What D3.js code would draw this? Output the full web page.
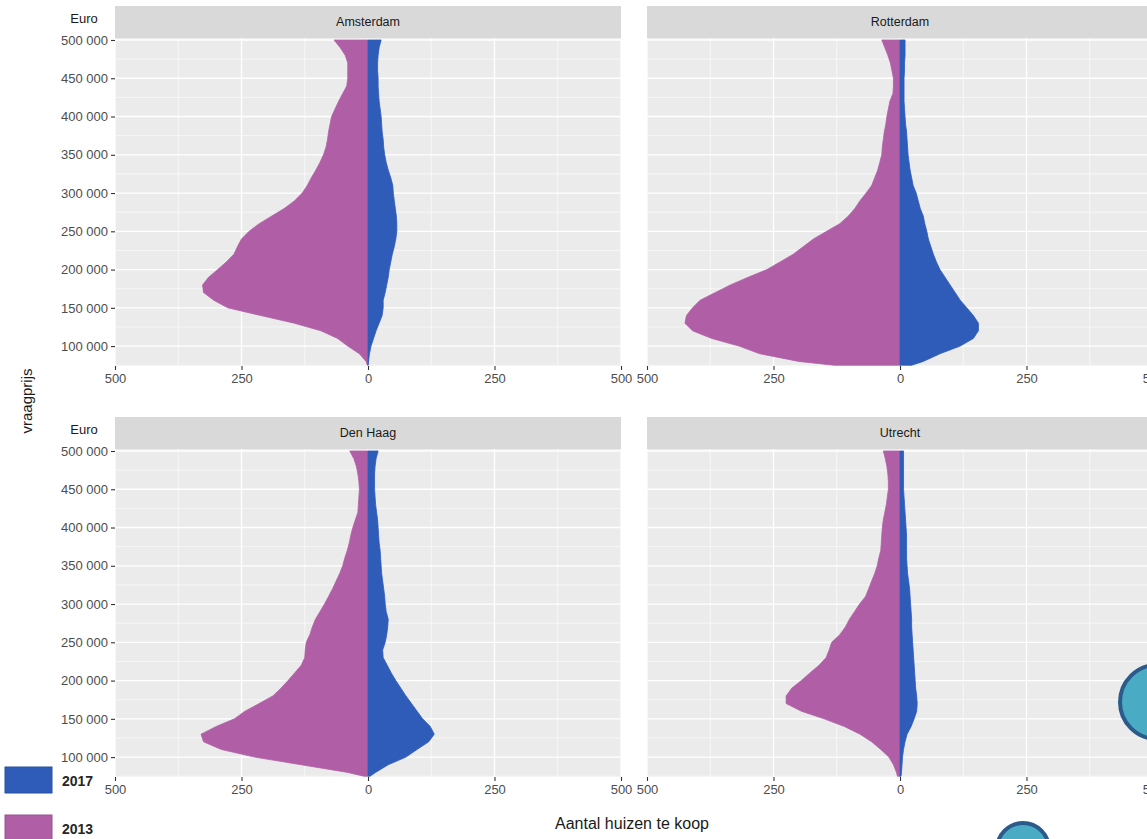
<!DOCTYPE html>
<html>
<head>
<meta charset="utf-8">
<script src="https://cdn.jsdelivr.net/npm/d3@7"></script>
<style>
  html, body { margin: 0; padding: 0; background: #ffffff; }
  svg { display: block; font-family: "Liberation Sans", Arial, sans-serif; }
</style>
</head>
<body>
<svg id="chart" width="1147" height="839"></svg>
<script>
// ---------------- DATA ----------------
const cities = ["Amsterdam", "Rotterdam", "Den Haag", "Utrecht"];
const years = ["2017", "2013"];
const prices = [75000, 80000, 90000, 100000, 110000, 120000, 130000, 140000, 150000, 160000,
  170000, 180000, 190000, 200000, 210000, 220000, 230000, 240000, 250000, 260000,
  270000, 280000, 290000, 300000, 310000, 320000, 330000, 340000, 350000, 360000,
  370000, 380000, 390000, 400000, 410000, 420000, 430000, 440000, 450000, 460000,
  470000, 480000, 490000, 500000];

const amsterdam2013 = [1, 4, 17, 40, 60, 93, 146, 212, 277, 305, 325, 327, 315, 297, 280, 265, 258, 250, 235, 215,
  190, 165, 145, 130, 120, 112, 103, 95, 88, 83, 80, 78, 75, 72, 65, 58, 50, 42, 40, 40, 40, 45, 55, 67];
const amsterdam2017 = [0, 1, 3, 6, 11, 16, 22, 28, 30, 30, 34, 37, 40, 42, 45, 48, 52, 55, 57, 57,
  56, 54, 52, 50, 49, 45, 40, 36, 33, 31, 30, 28, 27, 26, 24, 22, 21, 20, 20, 19, 19, 20, 22, 26];

const rotterdam2013 = [130, 200, 277, 318, 372, 410, 425, 422, 410, 395, 365, 335, 300, 263, 237, 211, 191, 171, 145, 119,
  102, 89, 79, 67, 56, 50, 44, 40, 36, 35, 33, 31, 28, 26, 23, 20, 14, 13, 13, 16, 19, 24, 30, 36];
const rotterdam2017 = [23, 46, 79, 119, 145, 155, 155, 145, 132, 119, 109, 99, 89, 79, 72, 66, 61, 56, 53, 49,
  46, 40, 36, 32, 26, 23, 20, 18, 16, 15, 14, 13, 11, 10, 9, 8, 8, 8, 8, 9, 9, 10, 10, 10];

const denhaag2013 = [8, 40, 132, 224, 290, 325, 330, 300, 264, 243, 215, 188, 172, 158, 145, 132, 125, 124, 122, 115,
  110, 104, 95, 86, 78, 70, 63, 56, 50, 46, 41, 37, 34, 30, 25, 20, 19, 18, 17, 18, 20, 23, 28, 36];
const denhaag2017 = [4, 15, 40, 75, 97, 120, 131, 123, 108, 97, 86, 75, 65, 55, 46, 38, 30, 29, 34, 37,
  39, 40, 36, 34, 33, 31, 29, 27, 26, 25, 24, 22, 21, 20, 19, 17, 15, 14, 13, 13, 13, 14, 16, 20];

const utrecht2013 = [5, 7, 13, 22, 38, 56, 79, 110, 150, 195, 225, 225, 214, 195, 178, 160, 146, 140, 135, 119,
  108, 100, 90, 80, 68, 62, 56, 50, 45, 42, 38, 37, 36, 35, 33, 30, 27, 25, 23, 23, 24, 26, 29, 33];
const utrecht2017 = [2, 3, 4, 5, 7, 10, 14, 22, 28, 33, 34, 33, 31, 30, 29, 28, 27, 26, 25, 24,
  23, 23, 22, 21, 20, 19, 17, 15, 14, 13, 13, 13, 13, 12, 11, 10, 9, 8, 7, 7, 7, 7, 7, 7];

const xTicks = [-500, -250, 0, 250, 500];
const xMinor = [-375, -125, 125, 375];
const yTicks = [100000, 150000, 200000, 250000, 300000, 350000, 400000, 450000, 500000];
const yMinor = [75000, 125000, 175000, 225000, 275000, 325000, 375000, 425000, 475000];

const series2013 = [amsterdam2013, rotterdam2013, denhaag2013, utrecht2013];
const series2017 = [amsterdam2017, rotterdam2017, denhaag2017, utrecht2017];

// ---------------- STYLE / LAYOUT ----------------
const COL_2013 = "#b05fa7";
const COL_2017 = "#2e5cb8";
const PANEL_BG = "#ebebeb";
const STRIP_BG = "#d9d9d9";
const colX = [115, 647];
const panelW = 506;
const rowStrip = [6, 417];
const stripH = 32;
const panelH = 328;

const svg = d3.select("#chart");
const fmtY = d => d3.format(",")(d).replace(/,/g, " ");

cities.forEach((city, i) => {
  const col = i % 2, row = Math.floor(i / 2);
  const x0 = colX[col];
  const sTop = rowStrip[row];
  const pTop = sTop + stripH;
  const pBot = pTop + panelH;

  const x = d3.scaleLinear().domain([-500, 500]).range([x0, x0 + panelW]);
  const y = d3.scaleLinear().domain([74000, 502600]).range([pBot, pTop]);

  const g = svg.append("g");

  // strip
  g.append("rect").attr("x", x0).attr("y", sTop).attr("width", panelW).attr("height", stripH)
    .attr("fill", STRIP_BG);
  g.append("text").attr("x", x0 + panelW / 2).attr("y", sTop + stripH / 2 + 4)
    .attr("text-anchor", "middle").attr("font-size", 12.5).attr("fill", "#1a1a1a").text(city);

  // panel background
  g.append("rect").attr("x", x0).attr("y", pTop).attr("width", panelW).attr("height", panelH)
    .attr("fill", PANEL_BG);

  // grid
  const grid = g.append("g");
  grid.selectAll(".ymin").data(yMinor).join("line")
    .attr("x1", x0).attr("x2", x0 + panelW).attr("y1", d => y(d)).attr("y2", d => y(d))
    .attr("stroke", "#fff").attr("stroke-width", 0.6);
  grid.selectAll(".xmin").data(xMinor).join("line")
    .attr("y1", pTop).attr("y2", pBot).attr("x1", d => x(d)).attr("x2", d => x(d))
    .attr("stroke", "#fff").attr("stroke-width", 0.6);
  grid.selectAll(".ymaj").data(yTicks).join("line")
    .attr("x1", x0).attr("x2", x0 + panelW).attr("y1", d => y(d)).attr("y2", d => y(d))
    .attr("stroke", "#fff").attr("stroke-width", 1.3);
  grid.selectAll(".xmaj").data(xTicks).join("line")
    .attr("y1", pTop).attr("y2", pBot).attr("x1", d => x(d)).attr("x2", d => x(d))
    .attr("stroke", "#fff").attr("stroke-width", 1.3);

  // areas
  const d13 = prices.map((p, k) => ({ p, v: series2013[i][k] }));
  const d17 = prices.map((p, k) => ({ p, v: series2017[i][k] }));
  const area13 = d3.area().curve(d3.curveLinear)
    .y(d => y(d.p)).x0(x(0)).x1(d => x(-d.v));
  const area17 = d3.area().curve(d3.curveLinear)
    .y(d => y(d.p)).x0(x(0)).x1(d => x(d.v));
  g.append("path").datum(d13).attr("d", area13).attr("fill", COL_2013)
    .attr("stroke", COL_2013).attr("stroke-width", 0.8);
  g.append("path").datum(d17).attr("d", area17).attr("fill", COL_2017)
    .attr("stroke", COL_2017).attr("stroke-width", 0.8);

  // x axis
  const xa = g.append("g").attr("transform", `translate(0,${pBot})`)
    .call(d3.axisBottom(x).tickValues(xTicks).tickFormat(d => Math.abs(d)).tickSize(4).tickPadding(4));
  xa.select(".domain").remove();
  xa.selectAll(".tick line").attr("stroke", "#333").attr("stroke-width", 1.1);
  xa.selectAll(".tick text").attr("fill", "#4d4d4d").attr("font-size", 13)
    .attr("font-family", "Liberation Sans, Arial, sans-serif");

  // y axis on left column
  if (col === 0) {
    const ya = g.append("g").attr("transform", `translate(${x0},0)`)
      .call(d3.axisLeft(y).tickValues(yTicks).tickFormat(fmtY).tickSize(4).tickPadding(3));
    ya.select(".domain").remove();
    ya.selectAll(".tick line").attr("stroke", "#333").attr("stroke-width", 1.1);
    ya.selectAll(".tick text").attr("fill", "#4d4d4d").attr("font-size", 13)
      .attr("font-family", "Liberation Sans, Arial, sans-serif");
    g.append("text").attr("x", 84).attr("y", sTop + 17).attr("text-anchor", "middle")
      .attr("font-size", 13).attr("fill", "#1a1a1a").text("Euro");
  }
});

// axis titles
svg.append("text").attr("transform", "translate(32,401) rotate(-90)")
  .attr("text-anchor", "middle").attr("font-size", 15).attr("fill", "#1a1a1a").text("vraagprijs");
svg.append("text").attr("x", 632).attr("y", 829).attr("text-anchor", "middle")
  .attr("font-size", 16).attr("fill", "#1a1a1a").text("Aantal huizen te koop");

// legend
const legColors = [COL_2017, COL_2013];
years.forEach((yr, k) => {
  const ly = 767 + k * 48;
  svg.append("rect").attr("x", 5).attr("y", ly).attr("width", 47).attr("height", 26)
    .attr("fill", legColors[k]).attr("stroke", d3.color(legColors[k]).darker(0.4)).attr("stroke-width", 1);
  svg.append("text").attr("x", 62).attr("y", ly + 19).attr("font-size", 14).attr("font-weight", "bold")
    .attr("fill", "#262626").text(yr);
});

// decorative slide circles
svg.append("circle").attr("cx", 1157).attr("cy", 702).attr("r", 37)
  .attr("fill", "#4aabc5").attr("stroke", "#2c5a8a").attr("stroke-width", 4);
svg.append("circle").attr("cx", 1023).attr("cy", 849).attr("r", 26)
  .attr("fill", "#4aabc5").attr("stroke", "#2c5a8a").attr("stroke-width", 4);
</script>
</body>
</html>
